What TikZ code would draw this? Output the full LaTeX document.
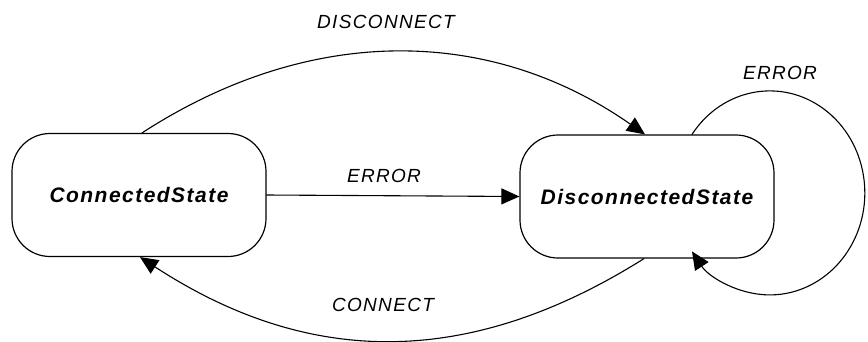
\documentclass[tikz,border=0pt]{standalone}
\usepackage{fontspec}
\setmainfont{Liberation Sans}[LetterSpace=7]
\usetikzlibrary{arrows.meta}
\begin{document}
\begin{tikzpicture}[x=1pt,y=-1pt,
  state/.style={draw,line width=1.2pt,rounded corners=38pt,minimum width=254pt,minimum height=123pt,
    inner sep=0pt,font=\fontsize{21}{24}\selectfont\bfseries\itshape},
  lbl/.style={font=\fontsize{19}{22}\selectfont\itshape,inner sep=0pt},
  conn/.style={line width=1.1pt,-{Triangle[length=18pt,width=16pt]}},
  every path/.style={line cap=round}]
\useasboundingbox (0,0) rectangle (868,341);
\node[state] (c) at (139,195) {ConnectedState};
\node[state] (d) at (647,196.5) {DisconnectedState};
\node[lbl] (ldis) at (386,22) {DISCONNECT};
\node[lbl] (lerr) at (384,176) {ERROR};
\node[lbl] (lcon) at (383,305) {CONNECT};
\node[lbl] (lself) at (780,73) {ERROR};
% ERROR straight
\draw[conn] (c.east) -- (d.west);
% DISCONNECT
\draw[conn] ([xshift=3pt]c.north) .. controls (310,24) and (490,26) .. ([xshift=-2pt]d.north);
% CONNECT
\draw[conn] ([xshift=-3pt]d.south) .. controls (470,368) and (310,368) .. ([xshift=1pt]c.south);
% self loop
\coordinate (ls) at ([xshift=45pt]d.north);
\draw[conn] (ls) arc[start angle=-145,end angle=145,x radius=95,y radius=102];
\end{tikzpicture}
\end{document}
